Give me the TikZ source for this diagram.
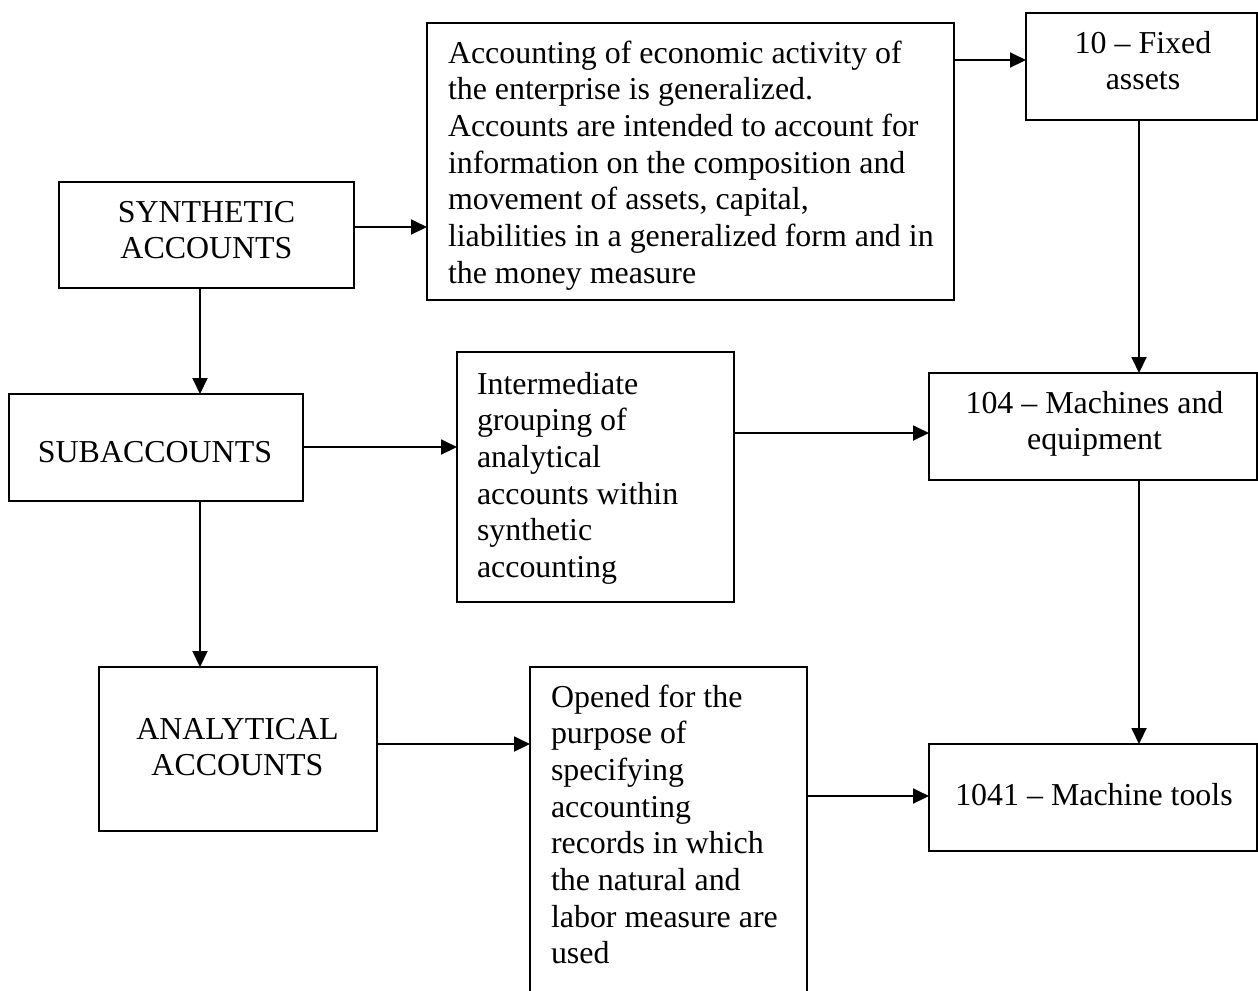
\documentclass[tikz,border=0pt]{standalone}
\usepackage{fontspec}
\setmainfont{Liberation Serif}
\usetikzlibrary{arrows.meta}

\tikzset{
  box/.style 2 args={draw, line width=0.85pt, inner sep=0pt, outer sep=0pt,
    minimum width=#1*0.376pt, minimum height=#2*0.376pt},
  lbl/.style={inner sep=0pt, outer sep=0pt},
  arr/.style={line width=0.85pt, -{Triangle[length=6pt, width=5.6pt]}},
}
% left-aligned and centred text blocks whose reference point is the first baseline
\newcommand{\lefttext}[1]{\parbox[t]{190pt}{\fontsize{12pt}{13.8pt}\selectfont\raggedright #1}}
\newcommand{\midtext}[1]{\parbox[t]{120pt}{\fontsize{12pt}{13.8pt}\selectfont\centering #1}}

\begin{document}
\begin{tikzpicture}[x=0.376pt, y=-0.376pt]
  \useasboundingbox (0,0) rectangle (1258,990);

  % boxes
  \node[box={295}{106}] (synth)  at (206.5,235)  {};
  \node[box={527}{277}] (desc)   at (690.5,161.5){};
  \node[box={231}{107}] (fixed)  at (1141.5,66.5){};
  \node[box={294}{107}] (sub)    at (156,447.5)  {};
  \node[box={277}{250}] (inter)  at (595.5,477)  {};
  \node[box={328}{107}] (mach)   at (1093,426.5) {};
  \node[box={278}{164}] (anal)   at (238,749)    {};
  \node[box={277}{343}] (opened) at (668.5,838.5){};
  \node[box={328}{107}] (tools)  at (1093,797.5) {};

  % texts
  \node[lbl, anchor=base] (synthT) at (206.5,222) {\midtext{SYNTHETIC\\ACCOUNTS}};
  \node[lbl, anchor=base west] (descT) at (448,63) {\lefttext{Accounting of economic activity of\\
    the enterprise is generalized.\\
    Accounts are intended to account for\\
    information on the composition and\\
    movement of assets, capital,\\
    liabilities in a generalized form and in\\
    the money measure}};
  \node[lbl, anchor=base] (fixedT) at (1143,53) {\midtext{10 – Fixed\\assets}};
  \node[lbl, anchor=base] (subT) at (155,462) {\midtext{SUBACCOUNTS}};
  \node[lbl, anchor=base west] (interT) at (477,394) {\lefttext{Intermediate\\
    grouping of\\ analytical\\ accounts within\\ synthetic\\ accounting}};
  \node[lbl, anchor=base] (machT) at (1094.5,413) {\midtext{104 – Machines and\\equipment}};
  \node[lbl, anchor=base] (analT) at (237.5,739) {\midtext{ANALYTICAL\\ACCOUNTS}};
  \node[lbl, anchor=base west] (openedT) at (551,707) {\lefttext{Opened for the\\
    purpose of\\ specifying\\ accounting\\ records in which\\ the natural and\\
    labor measure are\\ used}};
  \node[lbl, anchor=base] (toolsT) at (1094,805) {\midtext{1041 – Machine tools}};

  % connector rows and columns
  \coordinate (colL) at (200,0);
  \coordinate (colR) at (1139,0);
  \coordinate (rowFix) at (0,60);
  \coordinate (rowSyn) at (0,227);
  \coordinate (rowSub) at (0,447);
  \coordinate (rowInt) at (0,433);
  \coordinate (rowAna) at (0,744);
  \coordinate (rowOpn) at (0,796);

  % connectors
  \draw[arr] (synth.east |- rowSyn) -- (desc.west |- rowSyn);
  \draw[arr] (desc.east |- rowFix) -- (fixed.west |- rowFix);
  \draw[arr] (fixed.south -| colR) -- (mach.north -| colR);
  \draw[arr] (synth.south -| colL) -- (sub.north -| colL);
  \draw[arr] (sub.east |- rowSub) -- (inter.west |- rowSub);
  \draw[arr] (inter.east |- rowInt) -- (mach.west |- rowInt);
  \draw[arr] (sub.south -| colL) -- (anal.north -| colL);
  \draw[arr] (anal.east |- rowAna) -- (opened.west |- rowAna);
  \draw[arr] (opened.east |- rowOpn) -- (tools.west |- rowOpn);
  \draw[arr] (mach.south -| colR) -- (tools.north -| colR);
\end{tikzpicture}
\end{document}
